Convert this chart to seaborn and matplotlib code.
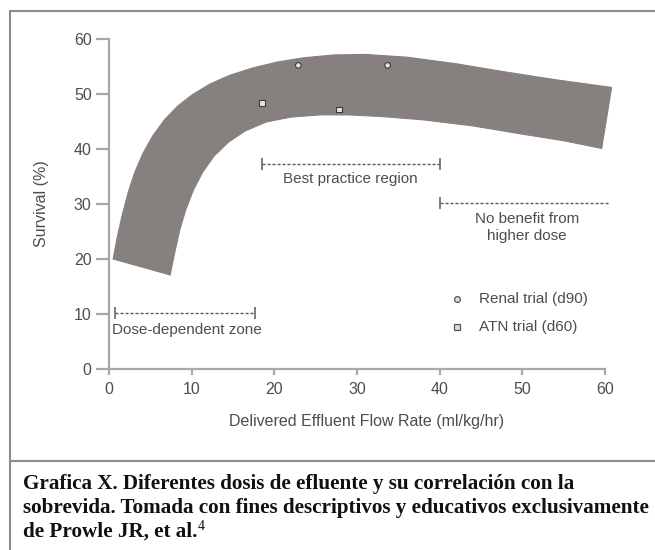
import numpy as np
import pandas as pd
import matplotlib
matplotlib.use("Agg")
import matplotlib.pyplot as plt
from matplotlib.lines import Line2D
import seaborn as sns

# Survival band (outer and inner edges), x = effluent dose, y = survival %
outer_x = [0.5, 1.0, 1.6, 2.3, 3.1, 4.1, 5.3, 6.7, 8.3, 10.1, 12.2, 14.6, 17.3,
           20.3, 23.6, 27.2, 31.0, 36.0, 42.0, 48.0, 54.0, 60.8]
outer_y = [20.0, 24.0, 28.0, 32.0, 35.7, 39.2, 42.4, 45.3, 47.8, 49.9, 51.8, 53.4,
           54.7, 55.8, 56.6, 57.1, 57.2, 56.7, 55.5, 54.0, 52.6, 51.2]
inner_x = [7.4, 8.0, 8.6, 9.3, 10.2, 11.3, 12.7, 14.5, 16.5, 19.0, 22.0, 25.5,
           29.0, 33.0, 38.0, 44.0, 50.0, 55.0, 59.6]
inner_y = [17.1, 21.5, 25.5, 29.0, 32.5, 35.7, 38.7, 41.3, 43.3, 44.9, 45.8, 46.2,
           46.2, 45.9, 45.3, 44.2, 42.7, 41.5, 40.1]

# Trial results
renal_dose = [22.9, 33.7]
renal_survival = [55.2, 55.2]
atn_dose = [18.5, 27.8]
atn_survival = [48.4, 47.2]

x_ticks = [0, 10, 20, 30, 40, 50, 60]
y_ticks = [0, 10, 20, 30, 40, 50, 60]

W, H = 655, 550

sns.set_theme(style="ticks")
plt.rcParams["font.family"] = ["Liberation Sans", "DejaVu Sans"]

fig = plt.figure(figsize=(W / 100, H / 100), dpi=100)
fig.patch.set_facecolor("white")

def fx(px):
    return px / W

def fy(py):
    return 1 - py / H

ax = fig.add_axes([fx(109), fy(369), fx(605) - fx(109), fy(39) - fy(369)])
ax.set_facecolor("white")

band_color = "#86807f"
ax.fill(np.r_[outer_x, inner_x[::-1]], np.r_[outer_y, inner_y[::-1]],
        facecolor=band_color, edgecolor=band_color, lw=0.8,
        joinstyle="round", clip_on=False, zorder=2)

trials = pd.DataFrame({
    "dose": renal_dose + atn_dose,
    "survival": renal_survival + atn_survival,
    "trial": ["Renal trial (d90)"] * len(renal_dose) + ["ATN trial (d60)"] * len(atn_dose),
})
sns.scatterplot(data=trials, x="dose", y="survival", style="trial",
                markers={"Renal trial (d90)": "o", "ATN trial (d60)": "s"},
                s=16, color="#e6e6e6", edgecolor="#3a3a3a", linewidth=0.8,
                legend=False, ax=ax, zorder=4, clip_on=False)

ax.set_xlim(0, 60)
ax.set_ylim(0, 60)
ax.set_xticks(x_ticks)
ax.set_yticks(y_ticks)
sns.despine(ax=ax)

axis_color = "#a8a8a8"
text_color = "#4d4d4d"
for side in ("left", "bottom"):
    ax.spines[side].set_color(axis_color)
    ax.spines[side].set_linewidth(1.6)
ax.tick_params(axis="y", length=9.5, width=1.6, color=axis_color, pad=3,
               labelsize=11.5, labelcolor=text_color)
ax.tick_params(axis="x", length=4.5, width=1.6, color=axis_color, pad=5,
               labelsize=11.5, labelcolor=text_color)

ax.set_xlabel("Delivered Effluent Flow Rate (ml/kg/hr)", fontsize=11.5, color=text_color)
ax.set_ylabel("Survival (%)", fontsize=11.5, color=text_color)
ax.xaxis.set_label_coords(0.52, -0.135)
ax.yaxis.set_label_coords(-0.12, 0.5)

dash_color = "#5a5a5a"

def bracket(x0, x1, y, left=True, right=True):
    ax.plot([x0, x1], [y, y], color=dash_color, lw=1.0, dashes=(2.2, 1.4),
            clip_on=False, zorder=3)
    ends = [x for x, on in ((x0, left), (x1, right)) if on]
    ax.plot(ends, [y] * len(ends), ls="none", marker="|", ms=9, mew=1.1,
            color=dash_color, clip_on=False, zorder=3)

bracket(18.5, 40.0, 37.3)
ax.text(29.2, 34.6, "Best practice region", ha="center", va="center",
        fontsize=11, color=text_color)

bracket(40.0, 60.6, 30.2, right=False)
ax.text(50.6, 25.7, "No benefit from\nhigher dose", ha="center", va="center",
        fontsize=11, color=text_color, linespacing=1.25)

bracket(0.7, 17.7, 10.2)
ax.text(0.4, 7.1, "Dose-dependent zone", ha="left", va="center",
        fontsize=11, color=text_color)

# Legend entries
ax.plot([42.1], [12.8], ls="none", marker="o", ms=4.2, mfc="#dddddd",
        mec="#555555", mew=0.9, zorder=4)
ax.plot([42.1], [7.7], ls="none", marker="s", ms=4.0, mfc="#dddddd",
        mec="#555555", mew=0.9, zorder=4)
ax.text(44.8, 12.8, "Renal trial (d90)", ha="left", va="center",
        fontsize=11, color=text_color)
ax.text(44.8, 7.7, "ATN trial (d60)", ha="left", va="center",
        fontsize=11, color=text_color)

# Frame around the figure and caption separator
frame_color = "#8c8c8c"
for xs, ys in (([9.5, 9.5], [10.7, 550]),
               ([9.5, 655], [10.7, 10.7]),
               ([9.5, 655], [461, 461])):
    fig.add_artist(Line2D([fx(v) for v in xs], [fy(v) for v in ys],
                          color=frame_color, lw=1.5, transform=fig.transFigure))

caption = [
    "Grafica X. Diferentes dosis de efluente y su correlación con la",
    "sobrevida. Tomada con fines descriptivos y educativos exclusivamente",
    "de Prowle JR, et al.",
]
baselines = [489, 513.5, 537]
serif = ["Liberation Serif", "DejaVu Serif"]
last = None
for line, base in zip(caption, baselines):
    last = fig.text(fx(23), fy(base), line, ha="left", va="baseline",
                    fontsize=15.2, fontweight="bold", family=serif, color="#111111")

fig.canvas.draw()
bb = last.get_window_extent()
fig.text(bb.x1 / W + 0.5 / W, fy(537) + 7 / H, "4", ha="left", va="baseline",
         fontsize=10, family=serif, color="#111111")

fig.savefig("out.png", dpi=100, facecolor="white")
